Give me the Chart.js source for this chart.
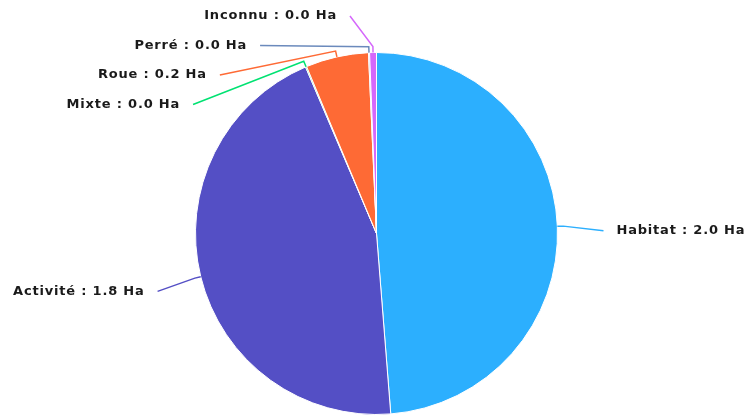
<!DOCTYPE html>
<html>
<head>
<meta charset="utf-8">
<script src="https://cdn.jsdelivr.net/npm/chart.js@4"></script>
<style>
  html, body { margin: 0; padding: 0; background: #fff; }
  #wrap { width: 745px; height: 419px; }
</style>
</head>
<body>
<div id="wrap"><canvas id="chart"></canvas></div>
<script>
// categories and surfaces (Ha)
const categories = ['Habitat', 'Activité', 'Mixte', 'Roue', 'Perré', 'Inconnu'];
const surfaces = [2.0, 1.84, 0.004, 0.23, 0.004, 0.025];
const colors = ['#2caffe', '#544fc5', '#00e272', '#fe6a35', '#6b8abc', '#d568fb'];

// labels with leader lines, spread out on an ellipse around the pie
const pieLabels = {
    id: 'pieLabels',
    afterDatasetsDraw(chart) {
        const ctx = chart.ctx;
        const arcs = chart.getDatasetMeta(0).data;
        const cx = arcs[0].x, cy = arcs[0].y, r = arcs[0].outerRadius;
        const rx = r + 46, ry = r + 38, gap = 29.5;

        const items = arcs.map((arc, i) => {
            const mid = (arc.startAngle + arc.endAngle) / 2;
            const c = Math.cos(mid), s = Math.sin(mid);
            // side labels sit a little lower than the ellipse point
            return { i, cos: c, sin: s, y: cy + ry * s + 6 * c * c };
        });

        [true, false].forEach(left => {
            const side = items.filter(it => (it.cos < 0) === left).sort((a, b) => a.y - b.y);
            let prev = -Infinity;
            side.forEach(it => {
                it.y = Math.max(it.y, prev + gap, 16);
                prev = it.y;
            });
            side.forEach(it => {
                const dy = (it.y - cy) / ry;
                const k = Math.sqrt(Math.max(0, 1 - dy * dy));
                it.x = cx + (left ? -1 : 1) * rx * k;
                it.left = left;
            });
        });

        ctx.save();
        ctx.font = 'bold 13px "DejaVu Sans"';
        ctx.letterSpacing = '0.8px';
        ctx.textBaseline = 'middle';
        items.forEach(it => {
            const p1x = cx + r * it.cos, p1y = cy + r * it.sin;
            const p2x = cx + (r + 6) * it.cos, p2y = cy + (r + 6) * it.sin;
            ctx.strokeStyle = colors[it.i];
            ctx.lineWidth = 1.5;
            ctx.beginPath();
            ctx.moveTo(p1x, p1y);
            ctx.lineTo(p2x, p2y);
            ctx.lineTo(it.x, it.y);
            ctx.stroke();

            const txt = categories[it.i] + ' : ' + surfaces[it.i].toFixed(1) + ' Ha';
            ctx.textAlign = it.left ? 'right' : 'left';
            const tx = it.x + (it.left ? -13 : 13);
            ctx.lineWidth = 2;
            ctx.strokeStyle = '#fff';
            ctx.strokeText(txt, tx, it.y);
            ctx.fillStyle = '#1a1a1a';
            ctx.fillText(txt, tx, it.y);
        });
        ctx.restore();
    }
};

new Chart(document.querySelector('#chart'), {
    type: 'pie',
    data: {
        labels: categories,
        datasets: [{
            data: surfaces,
            backgroundColor: colors,
            borderColor: '#fff',
            borderWidth: 1
        }]
    },
    options: {
        responsive: true,
        maintainAspectRatio: false,
        animation: false,
        layout: { padding: { top: 52, bottom: 4, left: 8, right: 0 } },
        plugins: {
            legend: { display: false },
            tooltip: { enabled: false }
        }
    },
    plugins: [pieLabels]
});
</script>
</body>
</html>
